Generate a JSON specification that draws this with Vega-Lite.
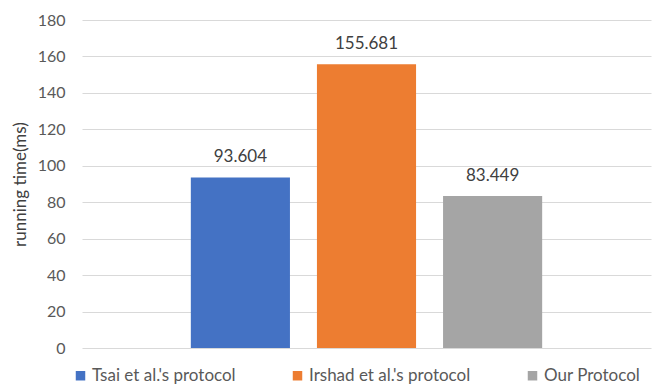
{
  "$schema": "https://vega.github.io/schema/vega-lite/v6.json",
  "autosize": {"type": "none"},
  "padding": {"left": 82, "top": 20, "right": 2, "bottom": 38},
  "width": 569,
  "height": 328,
  "background": "white",
  "config": {
    "view": {"stroke": null},
    "font": "Lato",
    "axis": {"labelFont": "Lato", "titleFont": "Lato"},
    "legend": {"labelFont": "Lato"}
  },
  "data": {
    "values": [
      {"protocol": "Tsai et al.'s protocol", "time": 93.604},
      {"protocol": "Irshad et al.'s protocol", "time": 155.681},
      {"protocol": "Our Protocol", "time": 83.449}
    ]
  },
  "encoding": {
    "x": {
      "field": "protocol",
      "type": "nominal",
      "sort": null,
      "axis": null,
      "scale": {"paddingInner": 0.214, "paddingOuter": 0.863}
    },
    "y": {
      "field": "time",
      "type": "quantitative",
      "scale": {"domain": [0, 180]},
      "axis": {
        "title": "running time(ms)",
        "values": [0, 20, 40, 60, 80, 100, 120, 140, 160, 180],
        "domain": false,
        "ticks": false,
        "gridColor": "#D9D9D9",
        "gridWidth": 1,
        "labelPadding": 17,
        "labelFontSize": 16,
        "labelColor": "#595959",
        "titleFontSize": 17,
        "titleFontWeight": "normal",
        "titleColor": "#404040",
        "titlePadding": 8
      }
    }
  },
  "layer": [
    {
      "mark": {"type": "bar"},
      "encoding": {
        "color": {
          "field": "protocol",
          "type": "nominal",
          "sort": null,
          "scale": {
            "domain": ["Tsai et al.'s protocol", "Irshad et al.'s protocol", "Our Protocol"],
            "range": ["#4472C4", "#ED7D31", "#A5A5A5"]
          },
          "legend": {
            "title": null,
            "orient": "none",
            "direction": "horizontal",
            "legendX": -10,
            "legendY": 347,
            "symbolType": "square",
            "symbolSize": 90,
            "symbolStrokeWidth": 0,
            "labelFontSize": 17,
            "labelColor": "#595959",
            "labelLimit": 300,
            "columnPadding": 53,
            "labelOffset": 3
          }
        }
      }
    },
    {
      "mark": {"type": "text", "baseline": "bottom", "dy": -11, "fontSize": 17, "color": "#404040"},
      "encoding": {
        "text": {"field": "time", "type": "quantitative", "format": ".3f"}
      }
    }
  ]
}
